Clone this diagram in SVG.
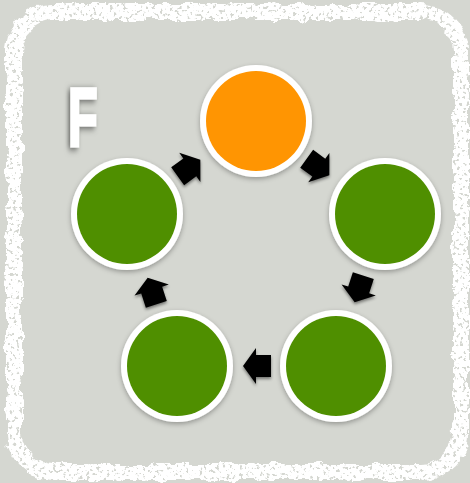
<svg xmlns="http://www.w3.org/2000/svg" width="470" height="483" viewBox="0 0 470 483">
  <defs>
    <style>
      .ring { fill: #ffffff; filter: url(#soft); }
      .green { fill: #4f8f00; }
      .orange { fill: #ff9502; }
      .arrow { fill: #000000; }
      .letter { font-family: "Liberation Sans", Arial, sans-serif; font-weight: bold; font-size: 84px; fill: #ffffff; stroke: #ffffff; stroke-width: 3; }
    </style>
    <!-- chalky rough edge for the frame -->
    <filter id="chalk" x="-5%" y="-5%" width="110%" height="110%">
      <feTurbulence type="fractalNoise" baseFrequency="0.07" numOctaves="3" seed="7" result="noise"/>
      <feDisplacementMap in="SourceGraphic" in2="noise" scale="10" xChannelSelector="R" yChannelSelector="G" result="rough"/>
      <feTurbulence type="fractalNoise" baseFrequency="0.3" numOctaves="2" seed="3" result="grain"/>
      <feColorMatrix in="grain" type="matrix" values="0 0 0 0 0  0 0 0 0 0  0 0 0 0 0  0 0 0 -12 8.2" result="holes"/>
      <feComposite in="rough" in2="holes" operator="in"/>
    </filter>
    <filter id="soft" x="-20%" y="-20%" width="140%" height="140%">
      <feDropShadow dx="0" dy="2" stdDeviation="2.5" flood-color="#000" flood-opacity="0.3"/>
    </filter>
    <filter id="arrowShadow" x="-30%" y="-30%" width="160%" height="160%">
      <feDropShadow dx="0" dy="2" stdDeviation="1.5" flood-color="#000" flood-opacity="0.45"/>
    </filter>
    <filter id="glow" x="-60%" y="-30%" width="220%" height="160%">
      <feDropShadow dx="-3" dy="2" stdDeviation="3.5" flood-color="#000" flood-opacity="0.55"/>
    </filter>
    <path id="blockArrow" d="M14,0 L1,-18 L1,-11 L-14,-11 L-14,11 L1,11 L1,18 Z"/>
  </defs>

  <!-- board -->
  <rect x="0" y="0" width="470" height="483" fill="#d5d7d1"/>
  <rect x="14" y="12" width="447" height="460" rx="40" ry="40" fill="none" stroke="#ffffff" stroke-width="16" filter="url(#chalk)"/>

  <!-- stencil letter -->
  <text class="letter" x="0" y="0" transform="translate(68,146) scale(0.58,1)" filter="url(#glow)">F</text>

  <!-- connectors -->
  <g id="connectors" filter="url(#arrowShadow)">
    <use href="#blockArrow" class="arrow" transform="translate(318,167) rotate(36)"/>
    <use href="#blockArrow" class="arrow" transform="translate(359,289) rotate(108)"/>
    <use href="#blockArrow" class="arrow" transform="translate(257,366) rotate(180)"/>
    <use href="#blockArrow" class="arrow" transform="translate(152,291) rotate(252)"/>
    <use href="#blockArrow" class="arrow" transform="translate(189,168) rotate(-36)"/>
  </g>

  <!-- nodes -->
  <g id="node-top">
    <circle class="ring" cx="256" cy="121" r="56"/>
    <circle class="orange" cx="256" cy="121" r="50"/>
  </g>
  <g id="node-right">
    <circle class="ring" cx="385" cy="214" r="56"/>
    <circle class="green" cx="385" cy="214" r="50"/>
  </g>
  <g id="node-bottom-right">
    <circle class="ring" cx="336" cy="366" r="56"/>
    <circle class="green" cx="336" cy="366" r="50"/>
  </g>
  <g id="node-bottom-left">
    <circle class="ring" cx="177" cy="366" r="56"/>
    <circle class="green" cx="177" cy="366" r="50"/>
  </g>
  <g id="node-left">
    <circle class="ring" cx="127" cy="214" r="56"/>
    <circle class="green" cx="127" cy="214" r="50"/>
  </g>
</svg>
